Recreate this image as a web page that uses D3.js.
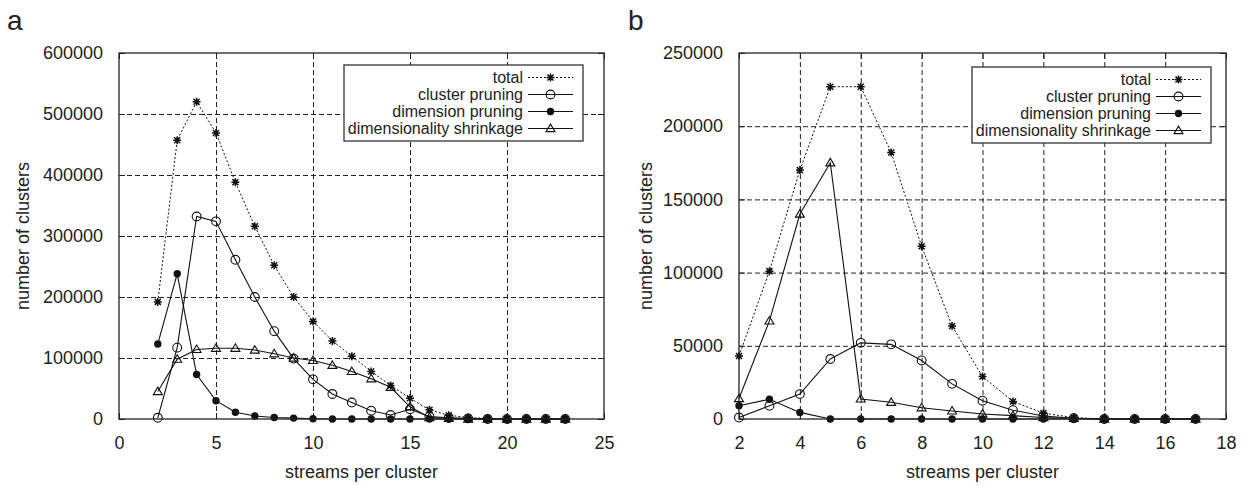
<!DOCTYPE html>
<html>
<head>
<meta charset="utf-8">
<script src="https://cdn.jsdelivr.net/npm/d3@7"></script>
<style>
  body { margin: 0; background: #fff; }
  svg { display: block; font-family: "Liberation Sans", Arial, sans-serif; }
  .grid line { stroke: #222; stroke-width: 1; stroke-dasharray: 5,3; }
  .grid path, .ax path { display: none; }
  .ax line { stroke: #222; stroke-width: 1; }
  .ax text { font-size: 18px; fill: #222; }
</style>
</head>
<body>
<script>
// panel a data (streams per cluster 2..23)
const streamsA = [2, 3, 4, 5, 6, 7, 8, 9, 10, 11, 12, 13, 14, 15, 16, 17, 18, 19, 20, 21, 22, 23];
const totalA = [192000, 457000, 520000, 469000, 388000, 316000, 252000, 200000, 160000, 128000, 103000, 78000, 55000, 34000, 15000, 6000, 2500, 1000, 500, 0, 0, 0];
const clusterA = [2000, 117000, 332000, 324000, 261000, 200000, 144000, 99000, 65000, 41000, 27000, 13500, 6500, 16000, 4000, 2000, 1000, 0, 0, 0, 0, 0];
const dimensionA = [123000, 238000, 73000, 30000, 11000, 5000, 2500, 1500, 500, 0, 0, 0, 0, 0, 0, 0, 0, 0, 0, 0, 0, 0];
const shrinkA = [45000, 98000, 114000, 116000, 116000, 113000, 107000, 100000, 96000, 88000, 78000, 66000, 52000, 20000, 2500, 1000, 0, 0, 0, 0, 0, 0];
const xTicksA = [0, 5, 10, 15, 20, 25];
const yTicksA = [0, 100000, 200000, 300000, 400000, 500000, 600000];

// panel b data (streams per cluster 2..17)
const streamsB = [2, 3, 4, 5, 6, 7, 8, 9, 10, 11, 12, 13, 14, 15, 16, 17];
const totalB = [43000, 101000, 170000, 227000, 227000, 182000, 118000, 63500, 29000, 12000, 4000, 1000, 0, 0, 0, 0];
const clusterB = [1000, 9000, 17000, 41000, 52000, 51000, 40000, 24000, 12500, 6000, 2000, 500, 0, 0, 0, 0];
const dimensionB = [9000, 13500, 4500, 0, 0, 0, 0, 0, 0, 0, 0, 0, 0, 0, 0, 0];
const shrinkB = [14000, 67000, 140000, 175000, 13700, 11400, 7700, 5500, 3400, 2300, 1000, 500, 0, 0, 0, 0];
const xTicksB = [2, 4, 6, 8, 10, 12, 14, 16, 18];
const yTicksB = [0, 50000, 100000, 150000, 200000, 250000];

const seriesNames = ["total", "cluster pruning", "dimension pruning", "dimensionality shrinkage"];
const markerTypes = ["star", "circle", "dot", "triangle"];

const svg = d3.select("body").append("svg")
    .attr("width", 1244)
    .attr("height", 485);

// draw a marker centred at 0,0
function marker(g, type) {
    if (type === "star") {
        g.append("path")
            .attr("d", "M-4,0H4M0,-4V4M-3,-3L3,3M-3,3L3,-3")
            .attr("stroke", "#111").attr("stroke-width", 1.5).attr("fill", "none");
    } else if (type === "circle") {
        g.append("circle").attr("r", 4.4)
            .attr("fill", "none").attr("stroke", "#111").attr("stroke-width", 1.1);
    } else if (type === "dot") {
        g.append("circle").attr("r", 3.7).attr("fill", "#111");
    } else {
        g.append("path")
            .attr("d", "M0,-4.4L4.5,3.1L-4.5,3.1Z")
            .attr("fill", "none").attr("stroke", "#111").attr("stroke-width", 1.1);
    }
}

function panel(opt) {
    const {left, right, top, bottom} = opt;
    const w = right - left, h = bottom - top;
    const x = d3.scaleLinear().domain(opt.xDomain).range([0, w]);
    const y = d3.scaleLinear().domain(opt.yDomain).range([h, 0]);

    const g = svg.append("g").attr("transform", "translate(" + left + "," + top + ")");

    // dashed grid (skip the ones on the frame)
    const xInner = opt.xTicks.slice(1, -1), yInner = opt.yTicks.slice(1, -1);
    g.append("g").attr("class", "grid")
        .attr("transform", "translate(0," + h + ")")
        .call(d3.axisBottom(x).tickValues(xInner).tickSize(-h).tickFormat(""));
    g.append("g").attr("class", "grid")
        .call(d3.axisLeft(y).tickValues(yInner).tickSize(-w).tickFormat(""));

    // axes, ticks pointing inward
    g.append("g").attr("class", "ax")
        .attr("transform", "translate(0," + h + ")")
        .call(d3.axisBottom(x).tickValues(opt.xTicks).tickSize(-6).tickPadding(17).tickFormat(d3.format("d")));
    g.append("g").attr("class", "ax")
        .call(d3.axisLeft(y).tickValues(opt.yTicks).tickSize(-6).tickPadding(16).tickFormat(d3.format("d")));
    g.append("g").attr("class", "ax")
        .call(d3.axisTop(x).tickValues(opt.xTicks).tickSize(-6).tickFormat(""));
    g.append("g").attr("class", "ax")
        .attr("transform", "translate(" + w + ",0)")
        .call(d3.axisRight(y).tickValues(opt.yTicks).tickSize(-6).tickFormat(""));

    const series = [opt.total, opt.cluster, opt.dimension, opt.shrink];
    const line = d3.line().x((d, i) => x(opt.xs[i])).y(d => y(d));

    // lines
    series.forEach((s, k) => {
        g.append("path")
            .attr("d", line(s))
            .attr("fill", "none")
            .attr("stroke", "#111")
            .attr("stroke-width", k === 0 ? 1 : 1.1)
            .attr("stroke-dasharray", k === 0 ? "2,2" : null);
    });
    // points
    [0, 1, 3, 2].forEach(k => {
        g.append("g").selectAll("g").data(series[k]).join("g")
            .attr("transform", (d, i) => "translate(" + x(opt.xs[i]) + "," + y(d) + ")")
            .each(function () { marker(d3.select(this), markerTypes[k]); });
    });

    // frame
    g.append("rect").attr("width", w).attr("height", h)
        .attr("fill", "none").attr("stroke", "#222").attr("stroke-width", 1.3);

    // legend
    const lg = g.append("g").attr("transform", "translate(" + (opt.legend.right - left) + "," + (opt.legend.top - top) + ")");
    lg.append("rect")
        .attr("x", -239).attr("y", 0).attr("width", 239).attr("height", 76)
        .attr("fill", "#fff").attr("stroke", "#333").attr("stroke-width", 1.3);
    seriesNames.forEach((name, k) => {
        const ry = 12.5 + k * 17;
        lg.append("text")
            .attr("x", -60).attr("y", ry).attr("dy", "0.35em")
            .attr("text-anchor", "end")
            .attr("font-size", 16).attr("fill", "#222")
            .text(name);
        lg.append("line")
            .attr("x1", -55).attr("x2", -10).attr("y1", ry).attr("y2", ry)
            .attr("stroke", "#111")
            .attr("stroke-width", k === 0 ? 1 : 1.1)
            .attr("stroke-dasharray", k === 0 ? "2,2" : null);
        const m = lg.append("g").attr("transform", "translate(-32.5," + ry + ")");
        marker(m, markerTypes[k]);
    });

    // axis titles
    svg.append("text")
        .attr("x", left + w / 2).attr("y", 478)
        .attr("text-anchor", "middle").attr("font-size", 18).attr("fill", "#222")
        .text("streams per cluster");
    svg.append("text")
        .attr("transform", "translate(" + opt.yTitleX + "," + (top + h / 2) + ") rotate(-90)")
        .attr("text-anchor", "middle").attr("font-size", 18).attr("fill", "#222")
        .text("number of clusters");
    // panel letter
    svg.append("text")
        .attr("x", opt.letterX).attr("y", 30)
        .attr("font-size", 28).attr("fill", "#222")
        .text(opt.letter);
}

panel({
    left: 119, right: 604, top: 53, bottom: 419,
    xDomain: [0, 25], yDomain: [0, 600000],
    xTicks: xTicksA, yTicks: yTicksA,
    xs: streamsA, total: totalA, cluster: clusterA, dimension: dimensionA, shrink: shrinkA,
    legend: {right: 583, top: 65},
    yTitleX: 29, letterX: 7, letter: "a"
});

panel({
    left: 739, right: 1226, top: 53, bottom: 419,
    xDomain: [2, 18], yDomain: [0, 250000],
    xTicks: xTicksB, yTicks: yTicksB,
    xs: streamsB, total: totalB, cluster: clusterB, dimension: dimensionB, shrink: shrinkB,
    legend: {right: 1211, top: 67},
    yTitleX: 652, letterX: 628, letter: "b"
});
</script>
</body>
</html>
